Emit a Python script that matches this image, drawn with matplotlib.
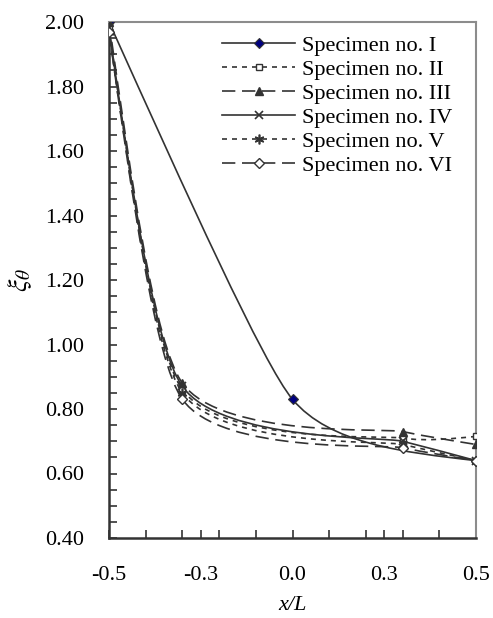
import numpy as np
import matplotlib
matplotlib.use("Agg")
import matplotlib.pyplot as plt
from matplotlib.path import Path
from matplotlib.patches import PathPatch
from matplotlib.lines import Line2D

plt.rcParams['font.family'] = ['Liberation Serif', 'DejaVu Serif']
plt.rcParams['mathtext.fontset'] = 'stix'

# data
x_i = [-0.5, 0.0, 0.5]
y_i = [2.00, 0.83, 0.64]
x_pos = [-0.5, -0.3, 0.3, 0.5]
y_ii = [1.98, 0.86, 0.71, 0.715]
y_iii = [2.00, 0.88, 0.73, 0.69]
y_iv = [1.98, 0.87, 0.70, 0.64]
y_v = [1.97, 0.85, 0.69, 0.64]
y_vi = [1.97, 0.83, 0.68, 0.64]
labels = ['Specimen no. I', 'Specimen no. II', 'Specimen no. III',
          'Specimen no. IV', 'Specimen no. V', 'Specimen no. VI']

x_ticks = [-0.5, -0.4, -0.3, -0.25, -0.2, -0.1, 0.0, 0.1, 0.2, 0.25, 0.3, 0.4, 0.5]
x_ticklabels = {-0.5: '-0.5', -0.25: '-0.3', 0.0: '0.0', 0.25: '0.3', 0.5: '0.5'}

W, H = 493, 618
fig = plt.figure(figsize=(W / 100, H / 100), dpi=100)
ax = fig.add_axes([109 / W, 80 / H, 367 / W, 516 / H])
ax.set_xlim(-0.5, 0.5)
ax.set_ylim(0.4, 2.0)

lc = '#333333'


def smooth_path(xs, ys, t=0.25, cap=0.3):
    # excel-like smoothed line, control points worked out in screen space
    p = ax.transData.transform(np.column_stack([xs, ys]))
    n = len(p)
    ca = [None] * n
    cb = [None] * n
    for i in range(1, n - 1):
        d0 = np.hypot(*(p[i] - p[i - 1]))
        d1 = np.hypot(*(p[i + 1] - p[i]))
        tan = p[i + 1] - p[i - 1]
        back = t * tan * d1 / (d0 + d1)
        fwd = t * tan * d0 / (d0 + d1)
        lb, lf = np.hypot(*back), np.hypot(*fwd)
        if lb > cap * d0:
            back *= cap * d0 / lb
        if lf > cap * d1:
            fwd *= cap * d1 / lf
        cb[i] = p[i] - back
        ca[i] = p[i] + fwd
    ca[0] = p[0] + (cb[1] - p[0]) / 2
    cb[n - 1] = p[-1] + (ca[n - 2] - p[-1]) / 2
    verts = [p[0]]
    codes = [Path.MOVETO]
    for i in range(n - 1):
        verts += [ca[i], cb[i + 1], p[i + 1]]
        codes += [Path.CURVE4] * 3
    verts = ax.transData.inverted().transform(np.array(verts))
    return Path(verts, codes)


short = (0, (3, 3))
long_ = (0, (8, 4))
series = [
    (x_i, y_i, '-', dict(marker='D', ms=5, mfc='#000080', mec=lc, mew=0.8)),
    (x_pos, y_ii, short, dict(marker='s', ms=5, mfc='white', mec=lc, mew=1.0)),
    (x_pos, y_iii, long_, dict(marker='^', ms=6, mfc=lc, mec=lc, mew=1.0)),
    (x_pos, y_iv, '-', dict(marker='x', ms=6, mfc=lc, mec=lc, mew=1.2)),
    (x_pos, y_v, short, dict(marker=(6, 2, 0), ms=7, mfc=lc, mec=lc, mew=1.2)),
    (x_pos, y_vi, long_, dict(marker='D', ms=5, mfc='white', mec=lc, mew=1.0)),
]

handles = []
for xs, ys, ls, mk in series:
    ax.add_patch(PathPatch(smooth_path(xs, ys), fill=False, ec=lc, lw=1.2,
                           linestyle=ls, capstyle='butt'))
    ax.plot(xs, ys, linestyle='none', zorder=3, **mk)
    handles.append(Line2D([], [], color=lc, lw=1.2, linestyle=ls, **mk))

fig.legend(handles, labels, loc='upper left', bbox_to_anchor=(222 / W, 1 - 35 / H),
           frameon=False, fontsize=16, handlelength=3.3, handletextpad=0.3,
           labelspacing=0.16, borderpad=0, borderaxespad=0)

ax.set_xticks(x_ticks)
ax.set_xticklabels([x_ticklabels.get(v, '') for v in x_ticks])
yt = np.round(np.arange(0.40, 2.001, 0.05), 2)
ax.set_yticks(yt)
ax.set_yticklabels(['%.2f' % v if round(v * 100) % 20 == 0 else '' for v in yt])
ax.tick_params(direction='in', length=6, width=1.2, color=lc, labelsize=16)
ax.tick_params(axis='x', pad=20)
ax.tick_params(axis='y', pad=18)

for s in ['left', 'bottom']:
    ax.spines[s].set_color(lc)
    ax.spines[s].set_linewidth(1.8)
for s in ['top', 'right']:
    ax.spines[s].set_color('#8c8c8c')
    ax.spines[s].set_linewidth(1.5)

ax.set_xlabel('x/L', fontsize=16, style='italic', labelpad=8)
ax.set_ylabel(r'$\xi_\theta$', fontsize=20, labelpad=8)

fig.savefig('out.png', dpi=100)
